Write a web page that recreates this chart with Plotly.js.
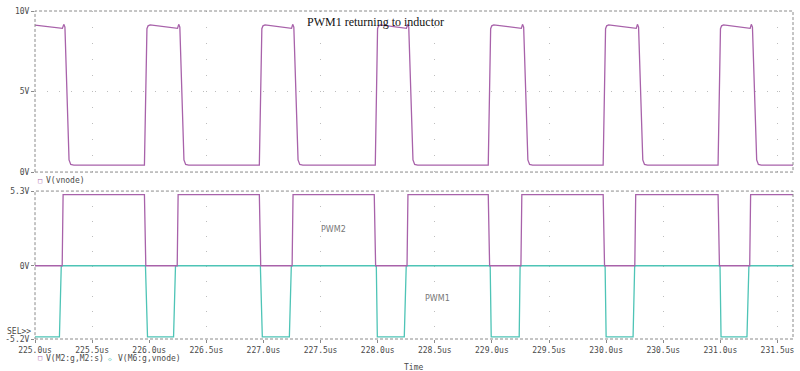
<!DOCTYPE html>
<html>
<head>
<meta charset="utf-8">
<script src="https://cdn.plot.ly/plotly-3.0.1.min.js"></script>
<style>html,body{margin:0;padding:0;background:#fff;}#chart{width:800px;height:371px;}</style>
</head>
<body>
<div id="chart"></div>
<script>
// ---- data ----
const vnodeT = [
  225.000, 225.240, 225.252, 225.262, 225.298, 225.313, 225.340,
  225.958, 225.980, 225.990, 226.008, 226.248, 226.258, 226.268, 226.304, 226.319, 226.345,
  226.964, 226.986, 226.996, 227.014, 227.246, 227.256, 227.266, 227.303, 227.318, 227.345,
  227.979, 227.999, 228.008, 228.024, 228.252, 228.262, 228.272, 228.309, 228.324, 228.350,
  228.968, 228.989, 228.999, 229.016, 229.258, 229.268, 229.278, 229.315, 229.330, 229.356,
  229.974, 229.995, 230.005, 230.022, 230.264, 230.274, 230.284, 230.321, 230.336, 230.362,
  230.980, 231.001, 231.011, 231.028, 231.261, 231.271, 231.281, 231.318, 231.333, 231.359,
  231.636
];
const vnodeV = [
  9.12, 8.92, 9.17, 9.00, 0.75, 0.47, 0.43,
  0.43, 8.90, 9.08, 9.14, 8.92, 9.17, 9.00, 0.75, 0.47, 0.43,
  0.43, 8.90, 9.08, 9.14, 8.92, 9.17, 9.00, 0.75, 0.47, 0.43,
  0.43, 8.90, 9.08, 9.14, 8.92, 9.17, 9.00, 0.75, 0.47, 0.43,
  0.43, 8.90, 9.08, 9.14, 8.92, 9.17, 9.00, 0.75, 0.47, 0.43,
  0.43, 8.90, 9.08, 9.14, 8.92, 9.17, 9.00, 0.75, 0.47, 0.43,
  0.43, 8.90, 9.08, 9.14, 8.92, 9.17, 9.00, 0.75, 0.47, 0.43,
  0.43
];
const pwm2T = [
  225.000, 225.238, 225.246, 225.958, 225.970,
  226.245, 226.253, 226.964, 226.976,
  227.251, 227.259, 227.970, 227.982,
  228.257, 228.265, 228.968, 228.980,
  229.254, 229.262, 229.974, 229.986,
  230.251, 230.259, 230.980, 230.992,
  231.257, 231.265, 231.636
];
const pwm2V = [
  0, 0, 5.05, 5.05, 0,
  0, 5.05, 5.05, 0,
  0, 5.05, 5.05, 0,
  0, 5.05, 5.05, 0,
  0, 5.05, 5.05, 0,
  0, 5.05, 5.05, 0,
  0, 5.05, 5.05
];
const pwm1T = [
  225.000, 225.214, 225.230, 225.967, 225.985,
  226.213, 226.230, 226.973, 226.990,
  227.227, 227.244, 227.988, 227.997,
  228.233, 228.250, 228.985, 228.994,
  229.239, 229.247, 229.991, 230.000,
  230.236, 230.250, 230.997, 231.006,
  231.233, 231.250, 231.636
];
const pwm1V = [
  -5.05, -5.05, 0, 0, -5.05,
  -5.05, 0, 0, -5.05,
  -5.05, 0, 0, -5.05,
  -5.05, 0, 0, -5.05,
  -5.05, 0, 0, -5.05,
  -5.05, 0, 0, -5.05,
  -5.05, 0, 0
];
const xTickVals = [225.0, 225.5, 226.0, 226.5, 227.0, 227.5, 228.0, 228.5, 229.0, 229.5, 230.0, 230.5, 231.0, 231.5];
const xTickText = ['225.0us','225.5us','226.0us','226.5us','227.0us','227.5us','228.0us','228.5us','229.0us','229.5us','230.0us','230.5us','231.0us','231.5us'];
const xGridVals = [225.5, 226.5, 227.5, 228.5, 229.5, 230.5, 231.5];
const topTickVals = [0, 5, 10];
const topTickText = ['0V', '5V', '10V'];
const botTickVals = [-5.2, 0, 5.3];
const botTickText = ['-5.2V', '0V', '5.3V'];
const xRange = [225.0, 231.636];

// ---- styles ----
const PURPLE = '#a862aa';
const TEAL = '#4ec4b6';
const TXT = '#4a4a4a';
const GRID = '#bdbdbd';
const MONO = 'DejaVu Sans Mono, monospace';
const tickFont = {family: MONO, size: 8, color: TXT};

const traces = [
  {x: vnodeT, y: vnodeV, xaxis: 'x2', yaxis: 'y2', mode: 'lines', line: {color: PURPLE, width: 1.3}, hoverinfo: 'skip'},
  {x: pwm1T, y: pwm1V, xaxis: 'x', yaxis: 'y', mode: 'lines', line: {color: TEAL, width: 1.3}, hoverinfo: 'skip'},
  {x: pwm2T, y: pwm2V, xaxis: 'x', yaxis: 'y', mode: 'lines', line: {color: PURPLE, width: 1.3}, hoverinfo: 'skip'},
  {x: [], y: [], xaxis: 'x3', yaxis: 'y', mode: 'lines', hoverinfo: 'skip'}
];

const border = (xr, yr) => ({type: 'rect', xref: xr + ' domain', yref: yr + ' domain', x0: 0, x1: 1, y0: 0, y1: 1,
  line: {color: '#8a8a8a', width: 1, dash: '3px,2px'}, layer: 'above'});

const layout = {
  width: 800, height: 371,
  margin: {l: 35, r: 7, t: 11, b: 32},
  paper_bgcolor: '#fff', plot_bgcolor: '#fff',
  showlegend: false,
  xaxis: {
    domain: [0, 1], anchor: 'y', range: xRange, tickmode: 'array', tickvals: xTickVals, ticktext: xTickText,
    tickfont: tickFont, ticks: 'outside', ticklen: 3, tickcolor: '#8a8a8a', showgrid: false, zeroline: false,
    showline: false, fixedrange: true
  },
  xaxis3: {
    overlaying: 'x', anchor: 'y', range: xRange, tickmode: 'array', tickvals: xGridVals, showticklabels: false,
    ticks: '', showgrid: true, gridcolor: GRID, gridwidth: 1, griddash: '1px,14px', zeroline: false, showline: false
  },
  yaxis: {
    domain: [0, 0.451], anchor: 'x', range: [-5.2, 5.3], tickmode: 'array', tickvals: botTickVals, ticktext: botTickText,
    tickfont: tickFont, ticks: 'outside', ticklen: 3, tickcolor: '#8a8a8a', showgrid: false, zeroline: false, showline: false
  },
  xaxis2: {
    domain: [0, 1], anchor: 'y2', range: xRange, tickmode: 'array', tickvals: xGridVals, showticklabels: false,
    ticks: '', showgrid: true, gridcolor: GRID, gridwidth: 1, griddash: '1px,15px', zeroline: false, showline: false
  },
  yaxis2: {
    domain: [0.509, 1], anchor: 'x2', range: [0, 10], tickmode: 'array', tickvals: topTickVals, ticktext: topTickText,
    tickfont: tickFont, ticks: 'outside', ticklen: 3, tickcolor: '#8a8a8a', showgrid: true, gridcolor: GRID,
    griddash: '1px,11px', zeroline: false, showline: false
  },
  shapes: [border('x2', 'y2'), border('x', 'y')],
  annotations: [
    {xref: 'x2', yref: 'y2', x: 227.98, y: 9.3, text: 'PWM1 returning to inductor', showarrow: false,
     font: {family: 'Liberation Serif, Times New Roman, serif', size: 12, color: '#111'}, xanchor: 'center', yanchor: 'middle'},
    {xref: 'x', yref: 'y', x: 227.61, y: 2.55, text: 'PWM2', showarrow: false,
     font: {family: 'DejaVu Sans, sans-serif', size: 8, color: '#777'}},
    {xref: 'x', yref: 'y', x: 228.52, y: -2.29, text: 'PWM1', showarrow: false,
     font: {family: 'DejaVu Sans, sans-serif', size: 8, color: '#777'}},
    {xref: 'paper', yref: 'paper', x: 0.0015, y: 0.482, text: '□', showarrow: false, xanchor: 'left', yanchor: 'middle',
     font: {family: MONO, size: 7, color: PURPLE}},
    {xref: 'paper', yref: 'paper', x: 0.0115, y: 0.482, text: 'V(vnode)', showarrow: false, xanchor: 'left', yanchor: 'middle',
     font: tickFont},
    {xref: 'paper', yref: 'paper', x: 0.0015, y: -0.058, text: '□', showarrow: false, xanchor: 'left', yanchor: 'middle',
     font: {family: MONO, size: 7, color: PURPLE}},
    {xref: 'paper', yref: 'paper', x: 0.0115, y: -0.058, text: 'V(M2:g,M2:s)', showarrow: false, xanchor: 'left', yanchor: 'middle',
     font: tickFont},
    {xref: 'paper', yref: 'paper', x: 0.094, y: -0.058, text: '◇', showarrow: false, xanchor: 'left', yanchor: 'middle',
     font: {family: MONO, size: 6, color: TEAL}},
    {xref: 'paper', yref: 'paper', x: 0.1065, y: -0.058, text: 'V(M6:g,vnode)', showarrow: false, xanchor: 'left', yanchor: 'middle',
     font: tickFont},
    {xref: 'paper', yref: 'paper', x: 0.4987, y: -0.088, text: 'Time', showarrow: false, xanchor: 'center', yanchor: 'middle',
     font: tickFont},
    {xref: 'paper', yref: 'paper', x: -0.003, y: 0.024, text: 'SEL>>', showarrow: false, xanchor: 'right', yanchor: 'middle',
     font: tickFont}
  ]
};

Plotly.newPlot('chart', traces, layout, {staticPlot: true, displayModeBar: false});
</script>
</body>
</html>
